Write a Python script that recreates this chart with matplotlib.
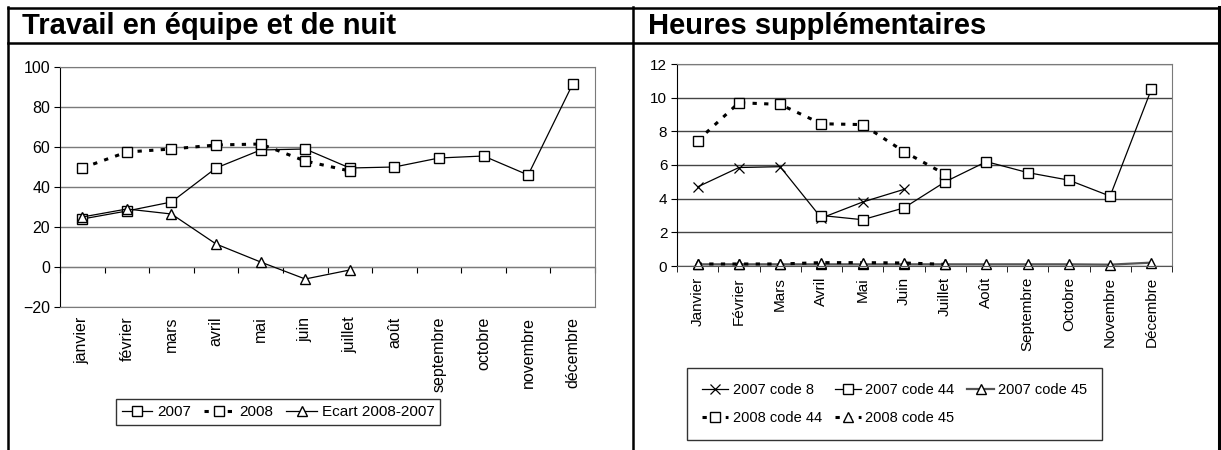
import numpy as np
import matplotlib
matplotlib.use("Agg")
import matplotlib.pyplot as plt

nan = np.nan

# --- data -------------------------------------------------------------
mois_gauche = ["janvier", "février", "mars", "avril", "mai", "juin", "juillet",
               "août", "septembre", "octobre", "novembre", "décembre"]
serie_2007 = [24, 28, 32.5, 49.5, 58.5, 59, 49.5, 50, 54.5, 55.5, 46, 91.5]
serie_2008 = [49.5, 57.5, 59, 61, 61.5, 53, 48, nan, nan, nan, nan, nan]
ecart = [25, 29, 26.5, 11.5, 2.5, -6, -1.5, nan, nan, nan, nan, nan]

mois_droite = ["Janvier", "Février", "Mars", "Avril", "Mai", "Juin", "Juillet",
               "Août", "Septembre", "Octobre", "Novembre", "Décembre"]
code8_2007 = [4.7, 5.85, 5.9, 2.85, 3.8, 4.55, nan, nan, nan, nan, nan, nan]
code44_2007 = [nan, nan, nan, 3.0, 2.75, 3.45, 5.0, 6.2, 5.55, 5.1, 4.15, 10.5]
code45_2007 = [0.1, 0.1, 0.1, 0.1, 0.1, 0.1, 0.1, 0.1, 0.1, 0.1, 0.08, 0.2]
code44_2008 = [7.45, 9.7, 9.6, 8.45, 8.4, 6.8, 5.45, nan, nan, nan, nan, nan]
code45_2008 = [0.12, 0.12, 0.12, 0.2, 0.2, 0.18, 0.1, nan, nan, nan, nan, nan]

W, H = 1221, 450
plt.rcParams["font.family"] = ["Liberation Sans", "DejaVu Sans"]


def px_axes(fig, x0, y0, x1, y1):
    # axes placed from pixel coords (top-left origin)
    return fig.add_axes([x0 / W, 1 - y1 / H, (x1 - x0) / W, (y1 - y0) / H])


fig = plt.figure(figsize=(W / 100, H / 100), dpi=100)

# frame / table lines and titles
bg = fig.add_axes([0, 0, 1, 1], zorder=-5)
bg.set_xlim(0, W)
bg.set_ylim(H, 0)
bg.axis("off")
lw_frame = 1.8
bg.plot([8, 8], [7, H + 5], color="black", lw=lw_frame)
bg.plot([1219, 1219], [7, H + 5], color="black", lw=2.2)
bg.plot([633, 633], [7, H + 5], color="black", lw=lw_frame)
bg.plot([8, 1219], [7.5, 7.5], color="black", lw=lw_frame)
bg.plot([8, 1219], [42.5, 42.5], color="black", lw=lw_frame)
bg.text(22, 26, "Travail en équipe et de nuit", fontsize=21, fontweight="bold",
        va="center", ha="left")
bg.text(648, 26, "Heures supplémentaires", fontsize=21, fontweight="bold",
        va="center", ha="left")

grid_c = "#7a7a7a"
x = np.arange(12)
bounds = np.arange(-0.5, 12, 1)
sq = dict(marker="s", markersize=6.5, markerfacecolor="white",
          markeredgecolor="black", markeredgewidth=1)
tri = dict(marker="^", markersize=6.5, markerfacecolor="white",
           markeredgecolor="black", markeredgewidth=1)
dash = (0, (1.4, 2.4))

# --- left chart -------------------------------------------------------
ax1 = px_axes(fig, 60, 67, 595, 307)
ax1.set_xlim(-0.5, 11.5)
ax1.set_ylim(-20, 100)
ax1.set_yticks(range(-20, 101, 20))
ax1.yaxis.grid(True, color=grid_c, lw=1)
ax1.set_axisbelow(True)
for s in ["top", "right", "bottom"]:
    ax1.spines[s].set_color(grid_c)
ax1.spines["left"].set_color("black")
ax1.tick_params(axis="y", length=4, labelsize=11.5, pad=3)
ax1.set_xticks(x, mois_gauche, rotation=90)
ax1.tick_params(axis="x", length=0, labelsize=11.5, pad=7)

h07, = ax1.plot(x, serie_2007, color="black", lw=0.9, **sq, label="2007")
h08, = ax1.plot(x, serie_2008, color="black", lw=2.2, ls=dash,
                **sq, label="2008")
hec, = ax1.plot(x, ecart, color="black", lw=0.9, **tri, label="Ecart 2008-2007")

sec = ax1.secondary_xaxis(20 / 120)
sec.set_xticks(bounds)
sec.tick_params(length=4, labelbottom=False, color="black")
sec.spines["bottom"].set_color(grid_c)

leg1 = fig.legend(handles=[h07, h08, hec], loc="center",
                  bbox_to_anchor=(108 / W, 1 - 428 / H, 340 / W, 32 / H),
                  mode="expand", ncol=3, frameon=True, fancybox=False,
                  edgecolor="black", fontsize=11, handlelength=2.0,
                  handletextpad=0.3, borderpad=0.4, columnspacing=1.5)
leg1.get_frame().set_linewidth(1)

# --- right chart ------------------------------------------------------
ax2 = px_axes(fig, 677, 64, 1172, 266)
ax2.set_xlim(-0.5, 11.5)
ax2.set_ylim(0, 12)
ax2.set_yticks(range(0, 13, 2))
ax2.yaxis.grid(True, color="#444444", lw=1)
ax2.set_axisbelow(True)
for s in ["top", "right"]:
    ax2.spines[s].set_color(grid_c)
ax2.spines["bottom"].set_color("#555555")
ax2.spines["left"].set_color("black")
ax2.tick_params(axis="y", length=4, pad=3, labelsize=11)
ax2.set_xticks(x, mois_droite, rotation=90)
ax2.set_xticks(bounds, minor=True)
ax2.tick_params(axis="x", which="major", length=0, pad=8, labelsize=11)
ax2.tick_params(axis="x", which="minor", length=4)

g8, = ax2.plot(x, code8_2007, color="black", lw=0.9, marker="x",
               markersize=7, markeredgewidth=0.9, label="2007 code 8")
g44, = ax2.plot(x, code44_2007, color="black", lw=0.9, **sq, label="2007 code 44")
g45, = ax2.plot(x, code45_2007, color="#555555", lw=1.6, **tri, label="2007 code 45")
g44b, = ax2.plot(x, code44_2008, color="black", lw=2.2, ls=dash,
                 **sq, label="2008 code 44")
g45b, = ax2.plot(x, code45_2008, color="black", lw=2.2, ls=dash,
                 **tri, label="2008 code 45")
for h in (g8, g44, g45, g44b, g45b):
    h.set_clip_on(False)

# order so that ncol=3 fills rows like the original
leg2 = fig.legend(handles=[g8, g44b, g44, g45b, g45], loc="center",
                  bbox_to_anchor=(680 / W, 1 - 441 / H, 429 / W, 74 / H),
                  mode="expand", ncol=3, frameon=True, fancybox=False,
                  edgecolor="black", fontsize=10.5,
                  handlelength=1.8, handletextpad=0.3, borderpad=1.0,
                  labelspacing=1.0, columnspacing=1.0)
leg2.get_frame().set_linewidth(1)

fig.savefig("out.png", dpi=100)
